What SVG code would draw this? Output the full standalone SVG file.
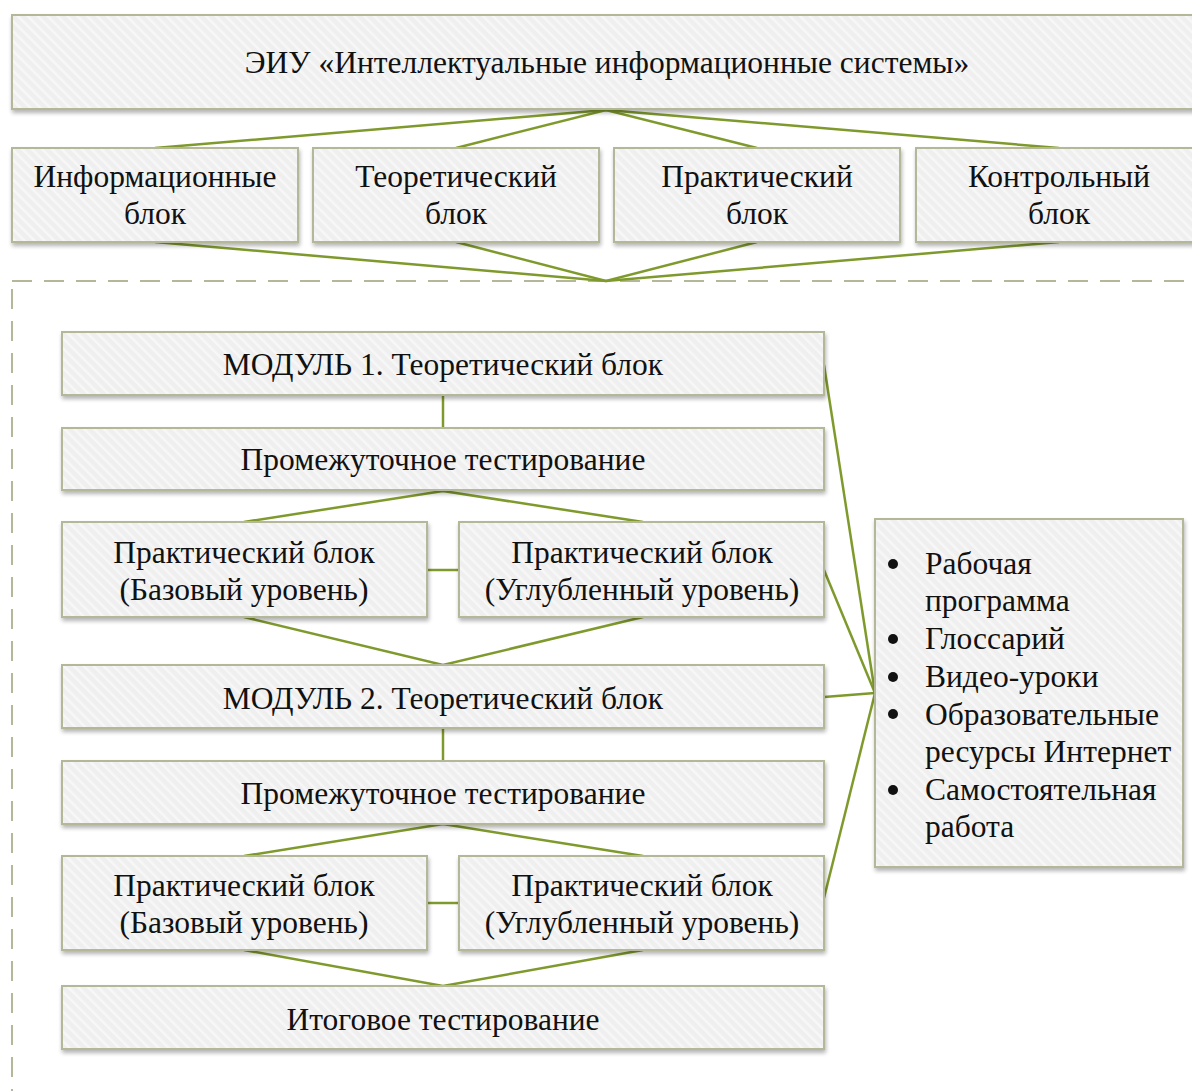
<svg xmlns="http://www.w3.org/2000/svg" width="1192" height="1091" viewBox="0 0 1192 1091">
<defs>
<pattern id="hatch" width="7" height="7" patternUnits="userSpaceOnUse" patternTransform="rotate(-45)">
<rect width="7" height="7" fill="#efefef"/>
<rect width="2.5" height="7" fill="#f7f7f7"/>
</pattern>
<filter id="sh" x="-5%" y="-10%" width="110%" height="130%">
<feGaussianBlur in="SourceAlpha" stdDeviation="2"/>
<feOffset dx="1" dy="3" result="b"/>
<feComponentTransfer><feFuncA type="linear" slope="0.3"/></feComponentTransfer>
<feMerge><feMergeNode/><feMergeNode in="SourceGraphic"/></feMerge>
</filter>
</defs>
<style>
.box{fill:url(#hatch);stroke:#b4b898;stroke-width:2;filter:url(#sh)}
.t{font-family:"Liberation Serif","Times New Roman",serif;font-size:31.5px;fill:#111;text-anchor:middle}
.l{font-family:"Liberation Serif","Times New Roman",serif;font-size:31.5px;fill:#111}
.c{stroke:#7f9a2c;stroke-width:2.5;fill:none}
.dash{fill:none;stroke:#b4b898;stroke-width:2;stroke-dasharray:20 12}
</style>
<rect x="0" y="0" width="1192" height="1091" fill="#fff"/>
<rect class="dash" x="12" y="281" width="1200" height="830"/>
<g id="connectors">
<polyline class="c" points="155,148 606,110 1059,148"/>
<polyline class="c" points="456,148 606,110 757,148"/>
<polyline class="c" points="155,242 606,281 1059,242"/>
<polyline class="c" points="456,242 606,281 757,242"/>
<line class="c" x1="443" y1="395" x2="443" y2="428"/>
<polyline class="c" points="244,522 443,491 643,522"/>
<line class="c" x1="427" y1="570" x2="459" y2="570"/>
<polyline class="c" points="244,617 443,665 643,617"/>
<line class="c" x1="443" y1="728" x2="443" y2="761"/>
<polyline class="c" points="244,856 443,824 643,856"/>
<line class="c" x1="427" y1="903" x2="459" y2="903"/>
<polyline class="c" points="244,950 443,986 643,950"/>
<line class="c" x1="824" y1="365" x2="875" y2="693"/>
<line class="c" x1="824" y1="570" x2="875" y2="693"/>
<line class="c" x1="824" y1="697" x2="875" y2="693"/>
<line class="c" x1="824" y1="898" x2="875" y2="693"/>
</g>
<g id="n-top"><rect class="box" x="12" y="15" width="1190" height="94"/><text class="t" x="607" y="73">ЭИУ «Интеллектуальные информационные системы»</text></g>
<g id="n-info"><rect class="box" x="12" y="148" width="286" height="94"/><text class="t" x="155" y="187">Информационные</text><text class="t" x="155" y="224">блок</text></g>
<g id="n-theory"><rect class="box" x="313" y="148" width="286" height="94"/><text class="t" x="456" y="187">Теоретический</text><text class="t" x="456" y="224">блок</text></g>
<g id="n-practice"><rect class="box" x="614" y="148" width="286" height="94"/><text class="t" x="757" y="187">Практический</text><text class="t" x="757" y="224">блок</text></g>
<g id="n-control"><rect class="box" x="916" y="148" width="290" height="94"/><text class="t" x="1059" y="187">Контрольный</text><text class="t" x="1059" y="224">блок</text></g>
<g id="n-m1"><rect class="box" x="62" y="332" width="762" height="63"/><text class="t" x="443" y="375">МОДУЛЬ 1. Теоретический блок</text></g>
<g id="n-test1"><rect class="box" x="62" y="428" width="762" height="62"/><text class="t" x="443" y="470">Промежуточное тестирование</text></g>
<g id="n-p1b"><rect class="box" x="62" y="522" width="365" height="95"/><text class="t" x="244" y="563">Практический блок</text><text class="t" x="244" y="600">(Базовый уровень)</text></g>
<g id="n-p1a"><rect class="box" x="459" y="522" width="365" height="95"/><text class="t" x="642" y="563">Практический блок</text><text class="t" x="642" y="600">(Углубленный уровень)</text></g>
<g id="n-m2"><rect class="box" x="62" y="665" width="762" height="63"/><text class="t" x="443" y="709">МОДУЛЬ 2. Теоретический блок</text></g>
<g id="n-test2"><rect class="box" x="62" y="761" width="762" height="63"/><text class="t" x="443" y="804">Промежуточное тестирование</text></g>
<g id="n-p2b"><rect class="box" x="62" y="856" width="365" height="94"/><text class="t" x="244" y="896">Практический блок</text><text class="t" x="244" y="933">(Базовый уровень)</text></g>
<g id="n-p2a"><rect class="box" x="459" y="856" width="365" height="94"/><text class="t" x="642" y="896">Практический блок</text><text class="t" x="642" y="933">(Углубленный уровень)</text></g>
<g id="n-final"><rect class="box" x="62" y="986" width="762" height="63"/><text class="t" x="443" y="1030">Итоговое тестирование</text></g>
<g id="n-res"><rect class="box" x="875" y="519" width="308" height="348"/>
<g class="l">
<circle cx="893" cy="564" r="5" fill="#111"/><text x="925" y="574">Рабочая</text>
<text x="925" y="611">программа</text>
<circle cx="893" cy="639" r="5" fill="#111"/><text x="925" y="649">Глоссарий</text>
<circle cx="893" cy="677" r="5" fill="#111"/><text x="925" y="687">Видео-уроки</text>
<circle cx="893" cy="714" r="5" fill="#111"/><text x="925" y="725">Образовательные</text>
<text x="925" y="762">ресурсы Интернет</text>
<circle cx="893" cy="790" r="5" fill="#111"/><text x="925" y="800">Самостоятельная</text>
<text x="925" y="837">работа</text>
</g></g>
</svg>
